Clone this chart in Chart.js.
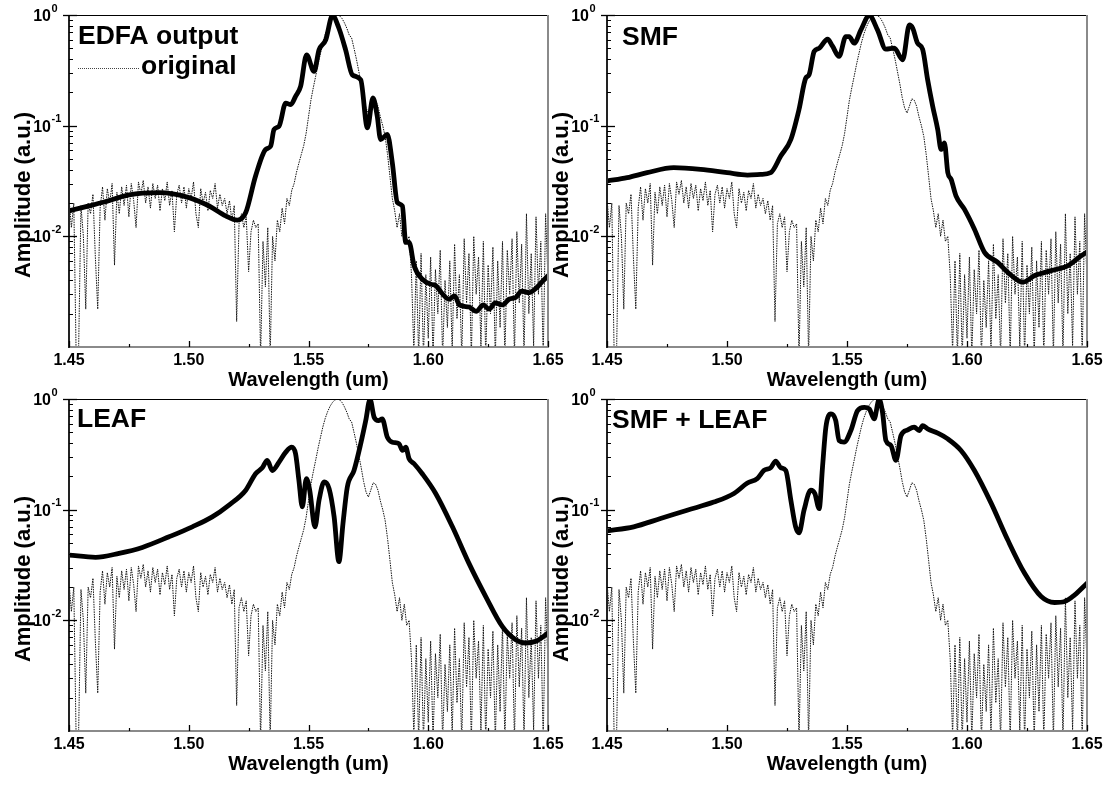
<!DOCTYPE html>
<html><head><meta charset="utf-8">
<script src="https://cdn.jsdelivr.net/npm/chart.js@4/dist/chart.umd.min.js"></script>
<style>
html,body{margin:0;padding:0;background:#fff;}
body{width:1113px;height:785px;position:relative;overflow:hidden;}
canvas{position:absolute;background:transparent;}
</style></head>
<body>
<canvas id="c1" width="575" height="392" style="left:0px;top:0px"></canvas>
<canvas id="c2" width="575" height="392" style="left:538px;top:0px"></canvas>
<canvas id="c3" width="575" height="392" style="left:0px;top:384px"></canvas>
<canvas id="c4" width="575" height="392" style="left:538px;top:384px"></canvas>
<script>
// ---------- DATA ----------
const panelLabels = ['EDFA output', 'SMF', 'LEAF', 'SMF + LEAF'];
const legendLabel = 'original';
const xTitle = 'Wavelength (um)';
const yTitle = 'Amplitude (a.u.)';
const xTickValues = [1.45, 1.50, 1.55, 1.60, 1.65];
const xMinorTicks = [1.475, 1.525, 1.575, 1.625];
const yMajorTicks = [1, 0.1, 0.01];
const yTickExponents = ['0', '-1', '-2'];

// original spectrum (dotted) – same in all panels
const origWl = [1.450,1.451,1.452,1.453,1.454,1.455,1.456,1.457,1.458,1.459,
1.460,1.461,1.462,1.463,1.464,1.465,1.466,1.467,1.468,1.469,
1.470,1.471,1.472,1.473,1.474,1.475,1.476,1.477,1.478,1.479,
1.480,1.481,1.482,1.483,1.484,1.485,1.486,1.487,1.488,1.489,
1.490,1.491,1.492,1.493,1.494,1.495,1.496,1.497,1.498,1.499,
1.500,1.501,1.502,1.503,1.504,1.505,1.506,1.507,1.508,1.509,
1.510,1.511,1.512,1.513,1.514,1.515,1.516,1.517,1.518,1.519,
1.520,1.521,1.522,1.523,1.524,1.525,1.526,1.527,1.528,1.529,
1.530,1.531,1.532,1.533,1.534,1.535,1.536,1.537,1.538,1.539,
1.540,1.541,1.542,1.543,1.544,1.545,1.546,1.547,1.548,1.549,
1.550,1.551,1.552,1.553,1.554,1.555,1.556,1.557,1.558,1.559,
1.560,1.561,1.562,1.563,1.564,1.565,1.566,1.567,1.568,1.569,
1.570,1.571,1.572,1.573,1.574,1.575,1.576,1.577,1.578,1.579,
1.580,1.581,1.582,1.583,1.584,1.585,1.586,1.587,1.588,1.589,
1.590,1.591,1.592,1.593,1.594,1.595,1.596,1.597,1.598,1.599,
1.600,1.601,1.602,1.603,1.604,1.605,1.606,1.607,1.608,1.609,
1.610,1.611,1.612,1.613,1.614,1.615,1.616,1.617,1.618,1.619,
1.620,1.621,1.622,1.623,1.624,1.625,1.626,1.627,1.628,1.629,
1.630,1.631,1.632,1.633,1.634,1.635,1.636,1.637,1.638,1.639,
1.640,1.641,1.642,1.643,1.644,1.645,1.646,1.647,1.648,1.649,
1.650];
const origAmp = [0.022,0.012,0.020,0.0008,0.0009,0.019,0.010,0.0022,0.020,0.016,
0.024,0.0065,0.0022,0.018,0.028,0.014,0.027,0.020,0.030,0.0055,
0.025,0.016,0.028,0.019,0.029,0.015,0.030,0.021,0.012,0.031,
0.024,0.032,0.020,0.028,0.018,0.030,0.022,0.029,0.017,0.027,
0.021,0.031,0.019,0.026,0.011,0.024,0.029,0.020,0.028,0.018,
0.027,0.022,0.031,0.016,0.012,0.027,0.020,0.025,0.017,0.026,
0.022,0.030,0.018,0.024,0.019,0.022,0.016,0.021,0.014,0.019,
0.0017,0.013,0.016,0.012,0.015,0.0048,0.011,0.014,0.012,0.013,
0.0008,0.009,0.0035,0.012,0.0008,0.010,0.006,0.014,0.011,0.018,
0.013,0.022,0.019,0.026,0.030,0.038,0.046,0.055,0.066,0.085,
0.12,0.17,0.22,0.28,0.36,0.45,0.56,0.67,0.77,0.86,
0.93,0.98,1.0,0.98,0.93,0.85,0.76,0.66,0.62,0.50,
0.40,0.31,0.24,0.18,0.145,0.13,0.15,0.175,0.17,0.15,
0.12,0.10,0.08,0.055,0.035,0.022,0.017,0.012,0.016,0.010,
0.014,0.009,0.010,0.0045,0.0009,0.006,0.0008,0.007,0.0008,0.0045,
0.0012,0.0065,0.0008,0.0050,0.0020,0.0075,0.0008,0.0040,0.0015,0.0060,
0.0009,0.0085,0.0018,0.0045,0.0008,0.0095,0.0025,0.0070,0.0008,0.0100,
0.0030,0.0065,0.0010,0.0090,0.0008,0.0055,0.0020,0.0080,0.0008,0.0060,
0.0015,0.0090,0.0008,0.0075,0.0030,0.0095,0.0008,0.0110,0.0025,0.0085,
0.0008,0.0160,0.0020,0.0070,0.0010,0.0150,0.0030,0.0090,0.0008,0.0160,
0.0040];

// EDFA output
const edfaWl = [1.4500,1.4639,1.4751,1.4876,1.5001,1.5085,1.5154,1.5203,1.5238,1.5279,
1.5321,1.5342,1.5356,1.5377,1.5405,1.5426,1.5446,1.5467,1.5492,1.5523,
1.5544,1.5572,1.5600,1.5627,1.5655,1.5683,1.5718,1.5746,1.5769,1.5787,
1.5801,1.5829,1.5850,1.5871,1.5892,1.5906,1.5920,1.5941,1.5975,1.6010,
1.6031,1.6055,1.6087,1.6110,1.6130,1.6170,1.6200,1.6230,1.6254,1.6280,
1.6310,1.6337,1.6365,1.6390,1.6421,1.6450,1.6476,1.6500];
const edfaAmp = [0.0170,0.0202,0.0237,0.0248,0.0224,0.0188,0.0153,0.0140,0.0164,0.0351,
0.0610,0.0653,0.0923,0.0989,0.160,0.155,0.184,0.226,0.436,0.309,
0.484,0.596,0.99,0.759,0.484,0.288,0.260,0.0955,0.178,0.122,
0.075,0.0832,0.0462,0.0202,0.0188,0.00881,0.00881,0.00543,0.0041,0.0037,
0.0036,0.0031,0.0027,0.0029,0.0024,0.0023,0.0021,0.0024,0.0022,0.0025,
0.0024,0.0027,0.0028,0.0032,0.0031,0.0034,0.0039,0.0044];

// SMF
const smfWl = [1.4500,1.4584,1.4667,1.4778,1.4890,1.5001,1.5085,1.5140,1.5182,1.5224,
1.5266,1.5300,1.5328,1.5342,1.5363,1.5384,1.5419,1.5439,1.5467,1.5495,
1.5509,1.5530,1.5558,1.5593,1.5627,1.5662,1.5697,1.5732,1.5760,1.5774,
1.5794,1.5815,1.5836,1.5857,1.5878,1.5892,1.5906,1.5920,1.5934,1.5954,
1.5989,1.6031,1.6073,1.6128,1.6170,1.6233,1.6282,1.6351,1.6421,1.6476,1.6500];
const smfAmp = [0.0316,0.0339,0.0376,0.0417,0.0403,0.0376,0.0358,0.0363,0.0376,0.0531,
0.0750,0.140,0.269,0.288,0.468,0.501,0.604,0.526,0.422,0.638,
0.638,0.556,0.733,0.99,0.733,0.491,0.501,0.394,0.813,0.759,
0.556,0.491,0.260,0.150,0.0923,0.0610,0.070,0.0376,0.0327,0.0232,
0.0176,0.0116,0.00716,0.00582,0.00473,0.00385,0.00442,0.0049,0.00543,0.00668,0.0072];

// LEAF
const leafWl = [1.4500,1.4611,1.4709,1.4806,1.4918,1.5015,1.5098,1.5168,1.5238,1.5279,
1.5307,1.5328,1.5349,1.5377,1.5405,1.5430,1.5446,1.5460,1.5474,1.5491,
1.5505,1.5527,1.5544,1.5565,1.5586,1.5607,1.5627,1.5644,1.5662,1.5690,
1.5718,1.5739,1.5757,1.5774,1.5792,1.5808,1.5829,1.5850,1.5878,1.5892,
1.5906,1.5920,1.5941,1.5975,1.6031,1.6101,1.6170,1.6240,1.6309,1.6365,
1.6407,1.6449,1.6500];
const leafAmp = [0.0389,0.0371,0.0403,0.0456,0.0569,0.070,0.0861,0.110,0.150,0.211,
0.239,0.279,0.226,0.269,0.331,0.367,0.320,0.184,0.106,0.191,
0.150,0.070,0.122,0.178,0.155,0.0861,0.0339,0.075,0.160,0.226,
0.394,0.638,0.99,0.684,0.638,0.661,0.452,0.407,0.394,0.343,
0.367,0.288,0.260,0.211,0.140,0.070,0.0327,0.0164,0.00881,0.00668,
0.00624,0.00646,0.00767];

// SMF + LEAF
const smfLeafWl = [1.4500,1.4611,1.4723,1.4834,1.4945,1.5029,1.5085,1.5126,1.5154,1.5182,
1.5203,1.5224,1.5245,1.5266,1.5286,1.5300,1.5321,1.5349,1.5366,1.5384,
1.5398,1.5412,1.5433,1.5453,1.5467,1.5488,1.5516,1.5544,1.5572,1.5593,
1.5613,1.5634,1.5648,1.5662,1.5683,1.5704,1.5725,1.5753,1.5780,1.5801,
1.5815,1.5836,1.5878,1.5920,1.5975,1.6031,1.6101,1.6170,1.6240,1.6309,
1.6365,1.6407,1.6449,1.6500];
const smfLeafAmp = [0.0644,0.070,0.0832,0.0989,0.117,0.140,0.174,0.191,0.226,0.239,
0.275,0.239,0.226,0.122,0.070,0.0618,0.0989,0.150,0.140,0.102,
0.243,0.556,0.733,0.638,0.422,0.407,0.519,0.785,0.841,0.813,
0.661,0.99,0.759,0.422,0.380,0.279,0.468,0.526,0.556,0.519,
0.575,0.537,0.491,0.436,0.343,0.226,0.114,0.0531,0.0266,0.0164,
0.0145,0.0148,0.0170,0.0216];

// ---------- RENDER ----------
const FONT = '"Liberation Sans", Arial, Helvetica, sans-serif';
function pts(xs, ys) { return xs.map((x, i) => ({x: x, y: ys[i]})); }

const decorPlugin = {
  id: 'decor',
  afterDraw(chart) {
    const o = chart.options.plugins.decor;
    const ctx = chart.ctx, a = chart.chartArea, xs = chart.scales.x, ys = chart.scales.y;
    ctx.save();
    ctx.lineCap = 'butt';
    function seg(x1, y1, x2, y2, w, c) {
      ctx.beginPath(); ctx.lineWidth = w; ctx.strokeStyle = c;
      ctx.moveTo(x1, y1); ctx.lineTo(x2, y2); ctx.stroke();
    }
    // frame
    seg(a.left - 1, a.top + 0.5, a.right, a.top + 0.5, 1.2, '#000');
    seg(a.right, a.top, a.right, a.bottom + 1, 2, '#8a8a8a');
    seg(a.left - 1, a.bottom, a.right + 1, a.bottom, 2, '#8a8a8a');
    seg(a.left, a.top, a.left, a.bottom + 1, 2, '#222');
    // y ticks
    yMajorTicks.forEach(v => {
      const py = Math.round(ys.getPixelForValue(v)) + 0.5;
      seg(a.left - 6, py, a.left + 8, py, 1.3, '#000');
    });
    [0.001, 0.01, 0.1].forEach(d => {
      for (let m = 2; m <= 9; m++) {
        const py = Math.round(ys.getPixelForValue(m * d)) + 0.5;
        seg(a.left, py, a.left + 4, py, 1, '#000');
      }
    });
    // x ticks
    xTickValues.forEach(v => {
      const px = Math.round(xs.getPixelForValue(v)) + 0.5;
      seg(px, a.bottom, px, a.bottom - 6, 1.3, '#000');
    });
    xMinorTicks.forEach(v => {
      const px = Math.round(xs.getPixelForValue(v)) + 0.5;
      seg(px, a.bottom, px, a.bottom - 3, 1.2, '#000');
    });
    // y tick labels 10^n
    ctx.fillStyle = '#000';
    yMajorTicks.forEach((v, i) => {
      const py = ys.getPixelForValue(v);
      ctx.font = 'bold 16px ' + FONT;
      ctx.textAlign = 'right'; ctx.textBaseline = 'middle';
      ctx.fillText('10', a.left - 18, py + 1.5);
      ctx.font = 'bold 11px ' + FONT;
      ctx.textAlign = 'left';
      ctx.fillText(yTickExponents[i], a.left - 17.5, py - 6.5);
    });
    // y title
    ctx.save();
    ctx.translate(30, 195);
    ctx.rotate(-Math.PI / 2);
    ctx.font = 'bold 22px ' + FONT;
    ctx.textAlign = 'center'; ctx.textBaseline = 'alphabetic';
    ctx.fillText(yTitle, 0, 0);
    ctx.restore();
    // panel label
    ctx.font = 'bold 26.5px ' + FONT;
    ctx.textAlign = 'left'; ctx.textBaseline = 'alphabetic';
    ctx.fillText(o.label, o.lx, o.ly);
    if (o.legend) {
      ctx.setLineDash([1, 1]);
      seg(78, 68.5, 140, 68.5, 1, '#444');
      ctx.setLineDash([]);
      ctx.fillText(legendLabel, 141, 74);
    }
    ctx.restore();
  }
};

const panels = [
  {id: 'c1', label: panelLabels[0], lx: 78, ly: 44, wl: edfaWl, amp: edfaAmp, legend: true, rp: 27},
  {id: 'c2', label: panelLabels[1], lx: 84, ly: 45, wl: smfWl, amp: smfAmp, legend: false, rp: 26},
  {id: 'c3', label: panelLabels[2], lx: 77, ly: 43, wl: leafWl, amp: leafAmp, legend: false, rp: 27},
  {id: 'c4', label: panelLabels[3], lx: 74, ly: 44, wl: smfLeafWl, amp: smfLeafAmp, legend: false, rp: 26}
];

panels.forEach(p => {
  new Chart(document.getElementById(p.id), {
    type: 'line',
    data: {
      datasets: [
        {label: p.label, data: pts(p.wl, p.amp), borderColor: '#000', borderWidth: 4.8,
         pointRadius: 0, cubicInterpolationMode: 'monotone', borderJoinStyle: 'round',
         borderCapStyle: 'round', fill: false, order: 0},
        {label: legendLabel, data: pts(origWl, origAmp), borderColor: '#111', borderWidth: 1,
         borderDash: [1.5, 1], pointRadius: 0, tension: 0, fill: false, order: 1}
      ]
    },
    options: {
      responsive: false, animation: false, events: [],
      layout: {padding: {top: 15, right: p.rp, left: 0, bottom: 0}},
      plugins: {legend: {display: false}, tooltip: {enabled: false},
        decor: {label: p.label, lx: p.lx, ly: p.ly, legend: p.legend}},
      scales: {
        x: {
          type: 'linear', min: 1.45, max: 1.65,
          afterBuildTicks: s => { s.ticks = xTickValues.map(v => ({value: v})); },
          afterFit: s => { s.height = 45; },
          ticks: {callback: v => Number(v).toFixed(2), color: '#000', padding: 4,
                  maxRotation: 0, autoSkip: false, font: {family: FONT, size: 16, weight: 'bold'}},
          grid: {display: false, drawTicks: false},
          border: {display: false},
          title: {display: true, text: xTitle, color: '#000', padding: {top: 0, bottom: 0},
                  font: {family: FONT, size: 20, weight: 'bold'}}
        },
        y: {
          type: 'logarithmic', min: 0.001, max: 1,
          afterFit: s => { s.width = 69; },
          ticks: {display: false},
          grid: {display: false, drawTicks: false},
          border: {display: false}
        }
      }
    },
    plugins: [decorPlugin]
  });
});
</script>
</body></html>
